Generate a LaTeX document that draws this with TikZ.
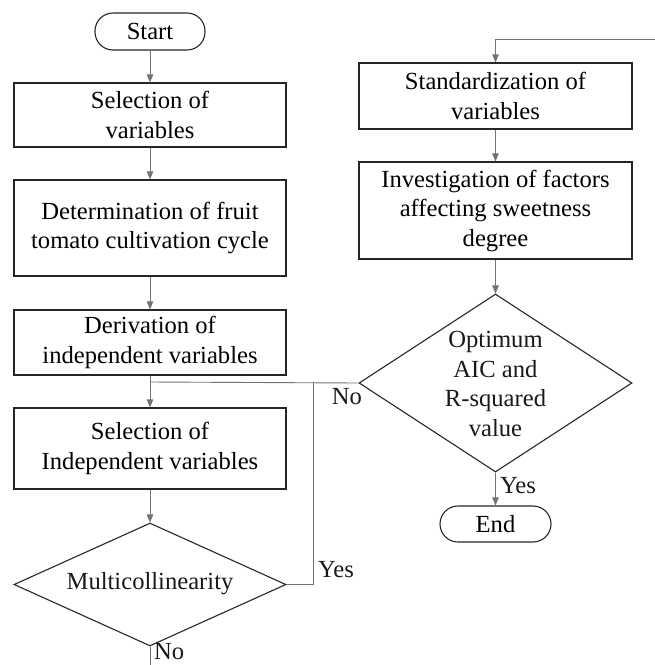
\documentclass[tikz,border=0pt]{standalone}
\usepackage{fontspec}
\setmainfont{Liberation Serif}
\usetikzlibrary{arrows.meta,shapes.geometric}
\begin{document}
\begin{tikzpicture}[x=1pt,y=-1pt,
  every node/.style={font=\fontsize{24.6}{29.5}\selectfont, inner sep=0pt},
  procbox/.style={draw=black!85, line width=1.2pt, rectangle, align=center, minimum width=272pt},
  termbox/.style={draw=black!85, line width=1.1pt, rectangle, rounded corners=18pt, minimum width=110pt, minimum height=37pt},
  decision/.style={draw=black!85, line width=1.1pt, diamond},
  conn/.style={draw=black!55, line width=0.9pt},
  arr/.style={conn, -{Triangle[length=8pt,width=6.5pt]}},
  lbl/.style={text=black!90}
]
\clip (0,0) rectangle (655,665);
\useasboundingbox (0,0) rectangle (655,665);

% left column
\node[termbox] (start) at (150,31.5) {Start};
\node[procbox, minimum height=64pt] (b1) at (150,115) {Selection of\\variables};
\node[procbox, minimum height=96pt] (b2) at (150,228) {Determination of fruit\\tomato cultivation cycle};
\node[procbox, minimum height=65pt] (b3) at (150,342.5) {Derivation of\\independent variables};
\node[procbox, minimum height=81pt] (b4) at (150,448.5) {Selection of\\Independent variables};
\node[decision, minimum width=272pt, minimum height=123pt] (d1) at (150,584.5) {};
\node[lbl] (d1t) at (150,584) {Multicollinearity};

% right column
\node[procbox, minimum width=273pt, minimum height=66pt] (b5) at (495.5,96) {Standardization of\\variables};
\node[procbox, minimum width=273pt, minimum height=97pt] (b6) at (495.5,210.5) {Investigation of factors\\affecting sweetness\\degree};
\node[decision, minimum width=273pt, minimum height=178pt] (d2) at (495.5,383) {};
\node[lbl, align=center] (d2t) at (495.5,384) {Optimum\\AIC and\\R-squared\\value};
\node[termbox, minimum width=111pt, minimum height=36pt] (end) at (495.5,524) {End};

% coordinates
\coordinate (j1) at (150,382);
\coordinate (j2) at (313,382);
\coordinate (topin) at (655,39);
\coordinate (botout) at (150,665);

% connectors
\draw[arr] (start) -- (b1);
\draw[arr] (b1) -- (b2);
\draw[arr] (b2) -- (b3);
\draw[arr] (b3) -- (b4);
\draw[arr] (b4) -- (d1);
\draw[conn] (d2.west) -- (j1);
\draw[conn] (d1.east) -| (j2);
\draw[conn] (d1.south) -- (botout);
\draw[arr] (topin) -| (b5.north);
\draw[arr] (b5) -- (b6);
\draw[arr] (b6) -- (d2);
\draw[arr] (d2.south) -- (end);

% labels
\node[lbl] (lno1) at (347,397) {No};
\node[lbl] (lyes1) at (336,570) {Yes};
\node[lbl] (lyes2) at (518,486) {Yes};
\node[lbl, anchor=base west] (lno2) at (154,659) {No};
\end{tikzpicture}
\end{document}
